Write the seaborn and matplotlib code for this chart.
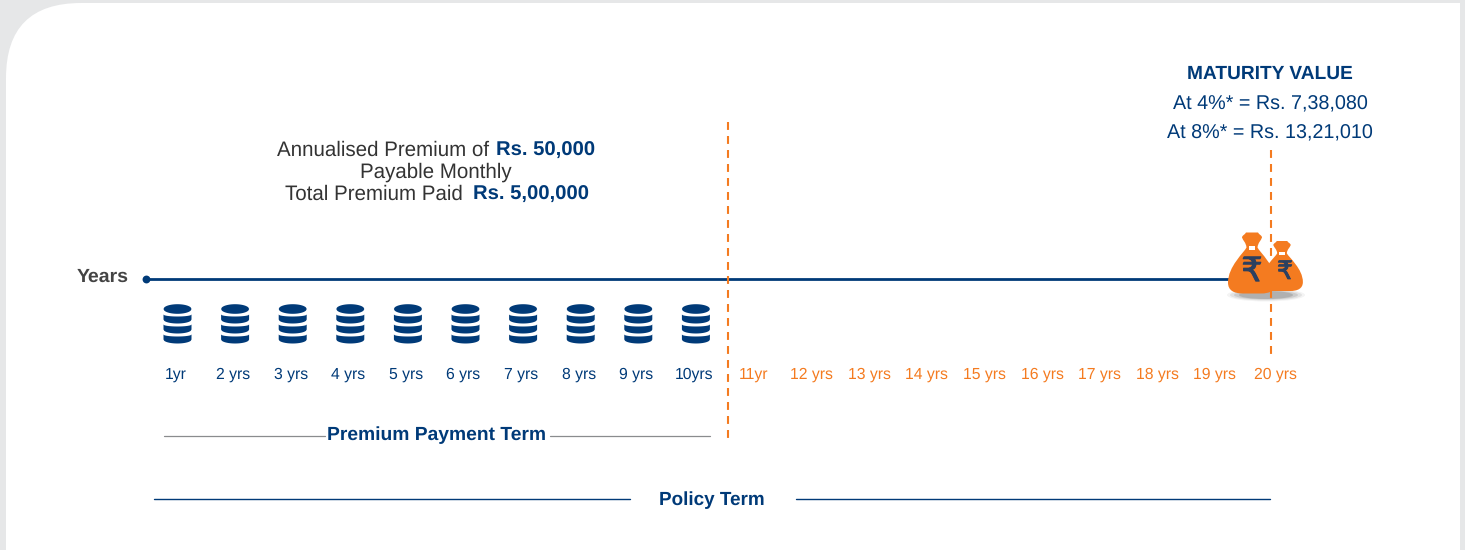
import numpy as np
import pandas as pd
import seaborn as sns
import matplotlib.pyplot as plt
import matplotlib.patheffects as pe
from matplotlib.patches import FancyBboxPatch, Rectangle, Ellipse, PathPatch
from matplotlib.path import Path

# values
years = list(range(1, 21))
year_labels = ['1yr', '2 yrs', '3 yrs', '4 yrs', '5 yrs', '6 yrs', '7 yrs', '8 yrs', '9 yrs', '10yrs',
               '11yr', '12 yrs', '13 yrs', '14 yrs', '15 yrs', '16 yrs', '17 yrs', '18 yrs', '19 yrs', '20 yrs']
premium_term = 10
policy_term = 20

NAVY = '#003A78'
ORANGE = '#F47B20'
GREY_BG = '#E6E7E8'
W, H = 1465, 550

sns.set_theme(style='white')
plt.rcParams['font.family'] = ['Liberation Sans', 'DejaVu Sans']
plt.rcParams['text.hinting'] = 'none'

fig = plt.figure(figsize=(W / 100, H / 100), dpi=100, facecolor=GREY_BG)


def layer(z):
    # full figure axes, y runs in pixels from the top
    a = fig.add_axes([0, 0, 1, 1], zorder=z)
    a.set_xlim(0, W)
    a.set_ylim(H, 0)
    a.axis('off')
    a.patch.set_alpha(0)
    return a


ax_bg = layer(0)
ax_yr = layer(1)
ax_top = layer(2)

# x axis of the middle layer is in policy years
yr_x0, yr_step = 177.5, 57.6
ax_yr.set_xlim(1 - yr_x0 / yr_step, 1 + (W - yr_x0) / yr_step)

# white card with a rounded corner
ax_bg.add_patch(FancyBboxPatch((6, 3), 1454, 700, boxstyle='round,pad=0,rounding_size=75',
                               fc='white', ec='none'))
ax_bg.add_patch(Rectangle((200, 3), 1260, 600, fc='white', ec='none'))


def coin_marker():
    xs = np.linspace(-14, 14, 41)
    arc = np.sqrt(1 - (xs / 14) ** 2)
    polys = [np.column_stack([np.r_[xs, xs[::-1]], np.r_[4.8 * arc, -4.8 * arc[::-1]]])]
    for k in range(3):
        up = -5.5 - 10 * k - 2 * arc
        low = -10.5 - 10 * k - 4 * arc
        polys.append(np.column_stack([np.r_[xs, xs[::-1]], np.r_[up, low[::-1]]]))
    paths = []
    for p in polys:
        p = p + [0, 14.85]
        paths.append(Path(np.vstack([p, p[0]]), closed=True))
    return Path.make_compound_path(*paths)


# timeline
timeline = pd.DataFrame({'year': [(146 - yr_x0) / yr_step + 1, policy_term - 0.6], 'y': [279, 279]})
sns.lineplot(data=timeline, x='year', y='y', ax=ax_yr, color=NAVY, linewidth=2, errorbar=None)
sns.scatterplot(data=timeline.iloc[:1], x='year', y='y', ax=ax_yr, color=NAVY, s=32, linewidth=0)

# premium coins, one stack per paying year
coins = pd.DataFrame({'year': years[:premium_term], 'y': 323.85})
sns.scatterplot(data=coins, x='year', y='y', ax=ax_yr, color=NAVY, marker=coin_marker(),
                s=800, linewidth=0, edgecolor='none')

ax_yr.set_xlabel('')
ax_yr.set_ylabel('')
if ax_yr.get_legend():
    ax_yr.get_legend().remove()

# year labels
for yr, lab in zip(years, year_labels):
    shift = -2 if yr <= premium_term else (4 if yr == policy_term else 0.5)
    col = NAVY if yr <= premium_term else ORANGE
    ax_yr.text(yr + shift / yr_step, 375, lab, ha='center', va='center', fontsize=11.3, color=col)

ax_yr.set_ylim(H, 0)
ax_yr.axis('off')

# dashed term markers
dash = (0, (3.8, 2.92))
ax_top.plot([728, 728], [122, 438], color=ORANGE, lw=1.5, ls=dash)
ax_top.plot([1270.5, 1270.5], [150, 358], color=ORANGE, lw=1.5, ls=dash)


def bag(cx, top, sx, sy):
    right = [(6, 0), (7, 2), (10, 3), (10, 5), (9, 8), (6, 10), (5.5, 15),
             (8, 20), (24, 34), (24, 50), (24, 58), (18, 61), (9, 61)]
    left = [(-x, y) for x, y in right[::-1]]
    verts = right + [(-9, 61)] + left[1:] + [(6, 0)]
    codes = [Path.MOVETO] + [Path.CURVE4] * 12 + [Path.LINETO] + [Path.CURVE4] * 12 + [Path.CLOSEPOLY]
    verts = [(cx + x * sx, top + y * sy) for x, y in verts]
    return Path(verts, codes)


# money bags at maturity
for wd, hg, a in [(78, 13, 0.06), (72, 11, 0.10), (64, 9, 0.14), (54, 8, 0.2)]:
    ax_top.add_patch(Ellipse((1266, 295), wd, hg, fc='#444444', ec='none', alpha=a))
for cx, top, sx, sy in [(1282, 241, 0.87, 0.82), (1252, 232.5, 1, 1)]:
    ax_top.add_patch(PathPatch(bag(cx, top, sx, sy), fc=ORANGE, ec='none'))
    ax_top.add_patch(Rectangle((cx - 3.2 * sx, top + 13 * sy), 6.4 * sx, 4 * sy, fc='white', ec='none'))
for gx, fs in [(1285, 18), (1252, 24)]:
    ax_top.text(gx, 272, '₹', ha='center', va='center', fontsize=fs, color='#2C4060',
                family=['DejaVu Sans'], path_effects=[pe.withStroke(linewidth=0.7, foreground='#2C4060')])

# captions
ax_top.text(129, 276.5, 'Years', ha='right', va='center', fontsize=14, fontweight='bold', color='#444444')

tk = dict(va='baseline', fontsize=14.8, color='#333333')
bd = dict(va='baseline', fontsize=14.6, color=NAVY, fontweight='bold')
ax_top.text(277, 155.5, 'Annualised Premium of', ha='left', **tk)
ax_top.text(496, 155.5, 'Rs. 50,000', ha='left', **bd)
ax_top.text(436, 177.5, 'Payable Monthly', ha='center', **tk)
ax_top.text(285, 200, 'Total Premium Paid', ha='left', **tk)
ax_top.text(473, 200, 'Rs. 5,00,000', ha='left', **bd)

ax_top.text(1270, 74, 'MATURITY VALUE', ha='center', va='center', fontsize=13.8, fontweight='bold', color=NAVY)
ax_top.text(1270, 104, 'At 4%* = Rs. 7,38,080', ha='center', va='center', fontsize=14.2, color=NAVY)
ax_top.text(1270, 133, 'At 8%* = Rs. 13,21,010', ha='center', va='center', fontsize=14.2, color=NAVY)

# term brackets
ax_top.plot([164, 325], [436, 436], color='#8A8C8E', lw=0.9)
ax_top.plot([550, 710], [436, 436], color='#8A8C8E', lw=0.9)
ax_top.text(437, 435, 'Premium Payment Term', ha='center', va='center', fontsize=13.9, fontweight='bold', color=NAVY)
ax_top.plot([154, 630], [499, 499], color=NAVY, lw=1)
ax_top.plot([796, 1270], [499, 499], color=NAVY, lw=1)
ax_top.text(712, 500, 'Policy Term', ha='center', va='center', fontsize=13.6, fontweight='bold', color=NAVY)

fig.savefig('out.png', dpi=100, facecolor=fig.get_facecolor())
